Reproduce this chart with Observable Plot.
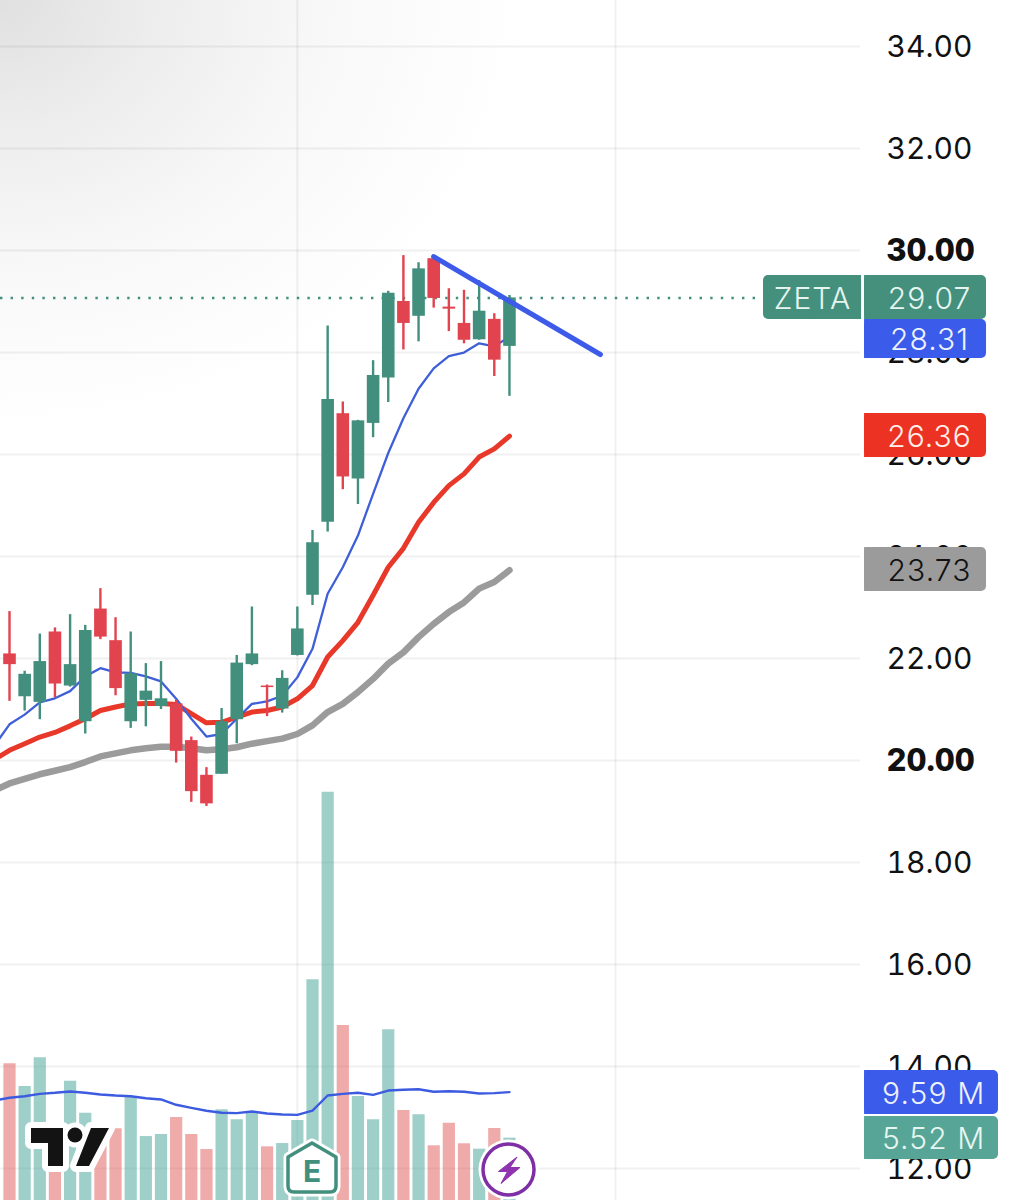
<!DOCTYPE html>
<html>
<head>
<meta charset="utf-8">
<script src="https://cdn.jsdelivr.net/npm/d3@7"></script>
<script src="https://cdn.jsdelivr.net/npm/@observablehq/plot@0.6"></script>
<style>
html,body{margin:0;padding:0;background:#fff;overflow:hidden}
#chart{width:1012px;height:1200px;background:radial-gradient(ellipse 520px 430px at 0 0,#e0e0e0 0%,#ededed 30%,#f8f8f8 62%,#fff 100%)}
svg{display:block}
</style>
</head>
<body>
<div id="chart"></div>
<script>
const opens  = [22.09,21.25,21.14,22.52,21.46,20.76,22.97,22.35,20.76,21.18,21.06,21.11,20.39,19.71,19.73,20.80,21.88,21.46,21.01,22.06,23.24,24.67,26.80,25.52,26.61,27.50,29.00,28.71,29.84,28.89,28.57,28.25,28.65,28.12];
const closes = [21.88,21.69,21.94,21.50,21.88,22.55,22.42,21.41,21.70,21.36,21.21,20.18,19.39,19.15,20.76,21.91,22.09,21.43,21.61,22.58,24.27,27.08,25.56,26.66,27.55,29.16,28.57,29.64,29.06,28.85,28.24,28.81,27.85,29.07];
const highs  = [22.92,21.75,22.48,22.60,22.86,22.65,23.37,22.80,22.52,21.90,21.94,21.18,20.46,19.86,21.02,22.06,23.01,21.48,21.76,23.01,24.51,28.52,27.03,26.67,27.84,29.20,29.90,29.76,29.90,29.25,29.22,29.41,28.76,29.12];
const lows   = [21.16,20.97,20.80,21.23,21.44,20.52,22.37,21.27,20.63,20.66,21.00,19.95,19.18,19.10,19.73,20.33,21.86,20.86,20.93,22.05,23.04,24.48,25.31,25.02,26.33,27.02,28.05,28.21,28.87,28.41,28.17,28.24,27.53,27.14];
const volumes = [12.10,10.09,12.63,6.37,10.56,7.73,4.87,6.35,9.14,5.66,5.84,7.35,5.84,4.51,8.03,7.14,7.73,4.75,5.04,7.08,19.53,36.13,15.49,9.20,7.14,15.11,7.96,7.58,4.84,6.84,5.02,4.54,6.37,5.52];
// Moving averages start one session left of the first candle (index -1)
const maBlue = [20.29,20.71,20.90,21.14,21.22,21.36,21.65,21.81,21.73,21.72,21.65,21.55,21.21,20.82,20.47,20.52,20.82,21.11,21.16,21.27,21.63,22.19,23.27,23.79,24.41,25.23,26.03,26.71,27.29,27.69,27.93,28.00,28.18,28.12,28.31];
const maRed  = [20.02,20.20,20.33,20.46,20.55,20.68,20.82,20.98,21.05,21.11,21.12,21.12,21.10,20.92,20.74,20.75,20.85,20.95,20.98,21.05,21.21,21.47,22.03,22.35,22.71,23.24,23.79,24.16,24.67,25.06,25.39,25.62,25.95,26.11,26.36];
const maGray = [19.41,19.55,19.64,19.73,19.80,19.87,19.97,20.08,20.14,20.20,20.24,20.27,20.27,20.24,20.20,20.22,20.26,20.33,20.38,20.43,20.52,20.69,20.95,21.11,21.34,21.60,21.90,22.12,22.42,22.68,22.91,23.10,23.37,23.50,23.73];
const maVolume = [8.85,9.09,9.23,9.44,9.53,9.65,9.53,9.38,9.29,9.23,9.05,8.94,8.47,8.20,7.94,7.76,7.73,7.88,7.70,7.61,7.58,7.96,9.29,9.44,9.53,9.35,9.73,9.80,9.85,9.62,9.67,9.62,9.47,9.50,9.59];
const trendIndex = [28,39];
const trendPrice = [29.88,27.96];
const lastPrice = 29.07;
const gridVerticalIndex = [19,40];
const priceTicks = [34,32,30,28,26,24,22,20,18,16,14,12];
const boldTicks = [30,20];
const badgeLabels = ["ZETA","29.07","28.31","26.36","23.73","9.59 M","5.52 M"];
const badgeFills = ["#44907d","#44907d","#3b5bea","#ec3323","#9b9b9b","#3b5bea","#56a596"];
const badgeInk = ["#e6f5f0","#e6f5f0","#eef2ff","#fff0ea","#111111","#eef2ff","#e6f5f0"];
const badgeTop = [29.51,29.51,28.647,26.804,24.176,13.922,13.02];
const badgeBottom = [28.647,28.647,27.882,25.941,23.314,13.059,12.176];
const badgeLeft = [49.77,56.44,56.44,56.44,56.44,56.44,56.44];
const badgeRight = [56.24,64.49,64.49,64.49,64.49,65.28,65.28];
const badgeTextX = [53.0,60.73,60.73,60.73,60.73,61.0,61.0];

const GREEN="#428f7d", RED="#e1434f";
const candles = opens.map((o,i)=>({i,o,c:closes[i],h:highs[i],l:lows[i],v:volumes[i],up:closes[i]>=o}));
const volFloor = 11.373, volScale = 11.3/51;        // volume pane shares the frame with the price pane
const volY = v => volFloor + v*volScale;
const lineRows = a => a.map((v,k)=>({i:k-1,v}));
const badges = badgeLabels.map((t,k)=>({t,fill:badgeFills[k],ink:badgeInk[k],y1:badgeTop[k],y2:badgeBottom[k],x1:badgeLeft[k],x2:badgeRight[k],tx:badgeTextX[k],cy:(badgeTop[k]+badgeBottom[k])/2}));

function icons(){
  const g = d3.create("svg:g");
  // TradingView mark
  const tv = "M31 1128H63V1166H48V1143H31Z M91 1128H109L89 1166H76Z";
  g.append("path").attr("d",tv).attr("fill","#fff").attr("stroke","#fff").attr("stroke-width",12).attr("stroke-linejoin","round");
  g.append("circle").attr("cx",75).attr("cy",1135).attr("r",7.5).attr("fill","#fff").attr("stroke","#fff").attr("stroke-width",10);
  g.append("path").attr("d",tv).attr("fill","#131313");
  g.append("circle").attr("cx",75).attr("cy",1135).attr("r",7.5).attr("fill","#131313");
  // Earnings house
  const house = "M312 1143L336 1157V1186Q336 1192 330 1192H294Q288 1192 288 1186V1157Z";
  g.append("path").attr("d",house).attr("fill","#fff").attr("stroke","#fff").attr("stroke-width",9).attr("stroke-linejoin","round");
  g.append("path").attr("d",house).attr("fill","#fff").attr("stroke","#428f7d").attr("stroke-width",3.5).attr("stroke-linejoin","round");
  g.append("text").attr("x",312).attr("y",1182).attr("text-anchor","middle").attr("font-family","Inter").attr("font-weight",700).attr("font-size",30).attr("fill","#428f7d").text("E");
  // Lightning event
  g.append("circle").attr("cx",508.5).attr("cy",1169.5).attr("r",30).attr("fill","#fff");
  g.append("circle").attr("cx",508.5).attr("cy",1169.5).attr("r",25.5).attr("fill","#fff").attr("stroke","#7f2fa5").attr("stroke-width",3.5);
  g.append("path").attr("d","M517 1157L498.5 1171.5H507.5L501 1183.5L520 1167.5H510Z").attr("fill","#8e34b0").attr("stroke","#8e34b0").attr("stroke-width",1).attr("stroke-linejoin","round");
  return g.node();
}

const chart = Plot.plot({
  width:1012, height:1200,
  marginTop:0, marginBottom:0, marginLeft:0, marginRight:152,
  style:{background:"transparent",fontFamily:"Inter",overflow:"visible"},
  x:{type:"linear",domain:[-9/15.15,851/15.15],axis:null},
  y:{domain:[11.373,34.902],axis:null},
  marks:[
    Plot.ruleY(priceTicks,{stroke:"#000",strokeOpacity:0.06,strokeWidth:2}),
    Plot.ruleX(gridVerticalIndex,{stroke:"#000",strokeOpacity:0.06,strokeWidth:2}),
    Plot.ruleX(candles,{x:"i",y1:volFloor,y2:d=>volY(d.v),strokeWidth:12.2,stroke:d=>d.up?"#3f9f94":"#df5555",strokeOpacity:0.5}),
    Plot.line(lineRows(maVolume),{x:"i",y:d=>volY(d.v),stroke:"#3d5be0",strokeWidth:2.4,curve:"linear"}),
    Plot.line(lineRows(maGray),{x:"i",y:"v",stroke:"#9b9b9b",strokeWidth:6.5,strokeLinecap:"round",strokeLinejoin:"round"}),
    Plot.line(lineRows(maRed),{x:"i",y:"v",stroke:"#e8382a",strokeWidth:5,strokeLinecap:"round",strokeLinejoin:"round"}),
    Plot.line(lineRows(maBlue),{x:"i",y:"v",stroke:"#3f5fd8",strokeWidth:2.3}),
    Plot.ruleY([lastPrice],{x1:-0.594,x2:49.7,stroke:GREEN,strokeWidth:2.6,strokeDasharray:"2.4,8.2"}),
    Plot.ruleX(candles,{x:"i",y1:"l",y2:"h",stroke:d=>d.up?GREEN:RED,strokeWidth:2.4}),
    Plot.ruleX(candles,{x:"i",y1:"o",y2:"c",stroke:d=>d.up?GREEN:RED,strokeWidth:12.6}),
    Plot.line(trendIndex.map((x,k)=>({x,y:trendPrice[k]})),{x:"x",y:"y",stroke:"#3d5be8",strokeWidth:5.2,strokeLinecap:"round"}),
    Plot.axisY({anchor:"right",ticks:priceTicks.filter(t=>!boldTicks.includes(t)),tickSize:0,tickPadding:26,tickFormat:d=>d.toFixed(2),fontSize:30,dy:1,fill:"#111",label:null}),
    Plot.axisY({anchor:"right",ticks:boldTicks,tickSize:0,tickPadding:26,tickFormat:d=>d.toFixed(2),fontSize:31,dy:1,fontWeight:800,fill:"#111",label:null}),
    Plot.rect(badges,{x1:"x1",x2:"x2",y1:"y1",y2:"y2",fill:"fill",rx:5}),
    Plot.rect(badges.filter(d=>d.t!=="ZETA"),{x1:"x1",x2:d=>(d.x1+d.x2)/2,y1:"y1",y2:"y2",fill:"fill"}),
    Plot.rect(badges.filter(d=>d.t==="ZETA"),{x1:d=>(d.x1+d.x2)/2,x2:"x2",y1:"y1",y2:"y2",fill:"fill"}),
    Plot.text(badges,{x:"tx",y:"cy",text:"t",fill:"ink",fontSize:30,dy:1.5,textAnchor:"middle",lineAnchor:"middle",fontWeight:300,className:"badge-label"}),
    icons
  ]
});
chart.querySelectorAll(".badge-label text").forEach(t=>{t.style.letterSpacing="1.1px"});
document.getElementById("chart").append(chart);
</script>
</body>
</html>
